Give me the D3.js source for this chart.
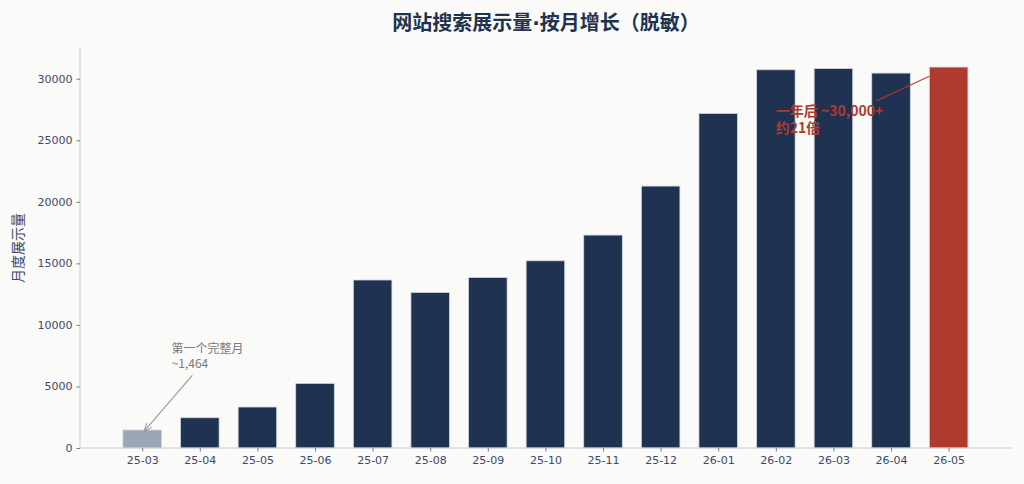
<!DOCTYPE html>
<html><head><meta charset="utf-8">
<script src="https://cdn.jsdelivr.net/npm/d3@7"></script>
<style>
html,body{margin:0;padding:0;background:#fafaf8;}
svg{display:block;}
</style></head>
<body>
<svg id="c" width="1024" height="484"></svg>
<script>
const months = ["25-03","25-04","25-05","25-06","25-07","25-08","25-09","25-10","25-11","25-12","26-01","26-02","26-03","26-04","26-05"];
const impressions = [1464,2460,3330,5250,13650,12640,13860,15210,17300,21280,27180,30730,30830,30460,30950];
const yTicks = [0,5000,10000,15000,20000,25000,30000];
const title = "网站搜索展示量·按月增长（脱敏）";
const yLabel = "月度展示量";
const noteFirst = ["第一个完整月","~1,464"];
const noteLast = ["一年后 ~30,000+","约21倍"];

const W = 1024, H = 484;
const m = {left:80, right:1012, top:48, bottom:448};
const svg = d3.select("#c");
svg.append("rect").attr("width",W).attr("height",H).attr("fill","#fafaf8");

const x = d3.scaleLinear().domain([-1.08, 15.1]).range([m.left, m.right]);
const y = d3.scaleLinear().domain([0, d3.max(impressions)*1.05]).range([m.bottom, m.top]);
const bw = x(0.67) - x(0);
const font = "'DejaVu Sans','Noto Sans CJK SC',sans-serif";
const cjk = "'Noto Sans CJK SC','DejaVu Sans',sans-serif";
const navy = "#1f3251", red = "#b03a2e", grey = "#9aa5b5", axisCol = "#3b4a6b";
const last = months.length-1;

// bars
svg.append("g").selectAll("rect").data(impressions).join("rect")
  .attr("x",(d,i)=>x(i)-bw/2)
  .attr("y",d=>y(d))
  .attr("width",bw)
  .attr("height",d=>y(0)-y(d))
  .attr("fill",(d,i)=> i===0?grey:(i===last?red:navy))
  .attr("stroke","#d4d8e0").attr("stroke-width",0.8);

// axes
const gy = svg.append("g").attr("transform",`translate(${m.left},0)`)
  .call(d3.axisLeft(y).tickValues(yTicks).tickFormat(d3.format("d")).tickSize(3.5).tickPadding(4));
const gx = svg.append("g").attr("transform",`translate(0,${m.bottom})`)
  .call(d3.axisBottom(x).tickValues(d3.range(months.length)).tickFormat(i=>months[i]).tickSize(3.5).tickPadding(5));
[gx,gy].forEach(g=>{
  g.select(".domain").attr("stroke","#cccccc").attr("stroke-width",1);
  g.selectAll(".tick line").attr("stroke","#555e70").attr("stroke-width",0.8);
  g.selectAll(".tick text").attr("fill",axisCol).style("font-family",font).style("font-size","11px");
});
gy.select(".domain").attr("d",`M0,${m.top}V${m.bottom}`);
gx.select(".domain").attr("d",`M${m.left},0H${m.right}`);

// title
svg.append("text").attr("x",(m.left+m.right)/2).attr("y",30)
  .attr("text-anchor","middle").attr("fill","#1f3251")
  .style("font-family",font).style("font-weight","bold").style("font-size","20px")
  .text(title);

// y label
svg.append("text").attr("transform",`translate(23,${(m.top+m.bottom)/2}) rotate(-90)`)
  .attr("text-anchor","middle").attr("fill",axisCol)
  .style("font-family",font).style("font-size","14px").text(yLabel);

// first note
const defs = svg.append("defs");
defs.append("marker").attr("id","ah").attr("viewBox","0 0 12 12").attr("refX",11).attr("refY",6)
  .attr("markerWidth",10).attr("markerHeight",10).attr("orient","auto-start-reverse")
  .attr("markerUnits","userSpaceOnUse")
  .append("path").attr("d","M1,2 L11,6 L1,10").attr("fill","none").attr("stroke","#9a9a9a").attr("stroke-width",1.2);
svg.append("line")
  .attr("x1", x(0.87)).attr("y1", y(5900))
  .attr("x2", x(0.03)).attr("y2", y(impressions[0])+1.5)
  .attr("stroke","#9a9a9a").attr("stroke-width",1.1).attr("marker-end","url(#ah)");
const t1 = svg.append("text").attr("x",x(0.51)).attr("y",y(7700))
  .attr("fill","#7a7a7a").style("font-family",cjk).style("font-size","12px");
noteFirst.forEach((s,i)=>t1.append("tspan").attr("x",x(0.51)).attr("dy",i?15:0).text(s));

// last note line (ends at red bar edge)
svg.append("line")
  .attr("x1", x(last-1.25)).attr("y1", y(28200))
  .attr("x2", x(last)-bw/2).attr("y2", y(30200))
  .attr("stroke", red).attr("stroke-width",1.3).attr("opacity",0.9);
const t2 = svg.append("text").attr("x",x(last-3.0)).attr("y",y(26950))
  .attr("fill",red).style("font-family",cjk).style("font-weight","bold").style("font-size","14px");
noteLast.forEach((s,i)=>t2.append("tspan").attr("x",x(last-3.0)).attr("dy",i?17:0).text(s));
</script>
</body></html>
